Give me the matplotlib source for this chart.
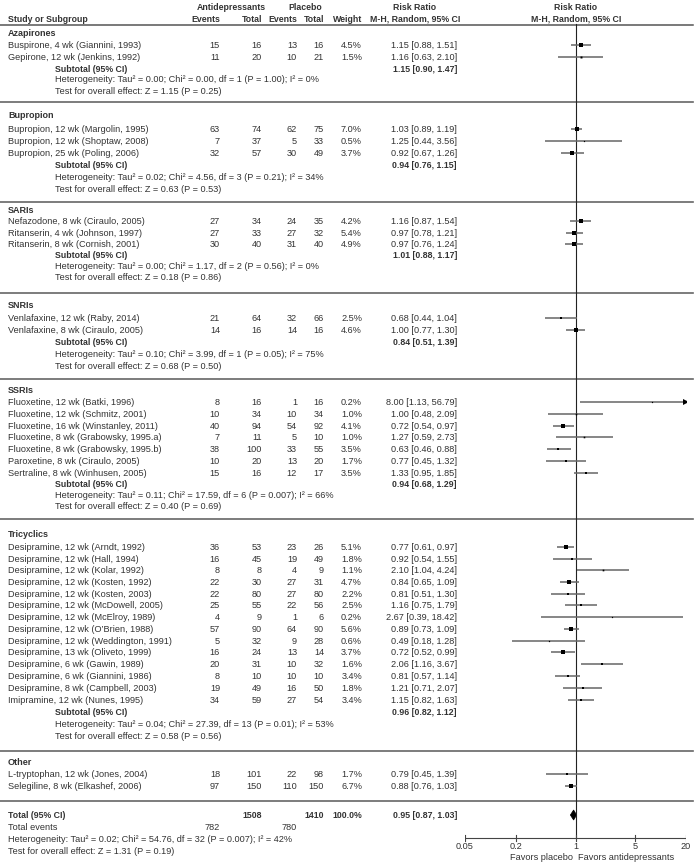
import matplotlib
matplotlib.use('Agg')
import matplotlib.pyplot as plt
from matplotlib.patches import Polygon

# ---------------- data ----------------
groups = ["Azapirones", "Bupropion", "SARIs", "SNRIs", "SSRIs", "Tricyclics", "Other"]
group_sizes = [2, 3, 3, 2, 7, 14, 2]

study_names = [
    "Buspirone, 4 wk (Giannini, 1993)", "Gepirone, 12 wk (Jenkins, 1992)",
    "Bupropion, 12 wk (Margolin, 1995)", "Bupropion, 12 wk (Shoptaw, 2008)", "Bupropion, 25 wk (Poling, 2006)",
    "Nefazodone, 8 wk (Ciraulo, 2005)", "Ritanserin, 4 wk (Johnson, 1997)", "Ritanserin, 8 wk (Cornish, 2001)",
    "Venlafaxine, 12 wk (Raby, 2014)", "Venlafaxine, 8 wk (Ciraulo, 2005)",
    "Fluoxetine, 12 wk (Batki, 1996)", "Fluoxetine, 12 wk (Schmitz, 2001)", "Fluoxetine, 16 wk (Winstanley, 2011)",
    "Fluoxetine, 8 wk (Grabowsky, 1995.a)", "Fluoxetine, 8 wk (Grabowsky, 1995.b)", "Paroxetine, 8 wk (Ciraulo, 2005)",
    "Sertraline, 8 wk (Winhusen, 2005)",
    "Desipramine, 12 wk (Arndt, 1992)", "Desipramine, 12 wk (Hall, 1994)", "Desipramine, 12 wk (Kolar, 1992)",
    "Desipramine, 12 wk (Kosten, 1992)", "Desipramine, 12 wk (Kosten, 2003)", "Desipramine, 12 wk (McDowell, 2005)",
    "Desipramine, 12 wk (McElroy, 1989)", "Desipramine, 12 wk (O\u2019Brien, 1988)", "Desipramine, 12 wk (Weddington, 1991)",
    "Desipramine, 13 wk (Oliveto, 1999)", "Desipramine, 6 wk (Gawin, 1989)", "Desipramine, 6 wk (Giannini, 1986)",
    "Desipramine, 8 wk (Campbell, 2003)", "Imipramine, 12 wk (Nunes, 1995)",
    "L-tryptophan, 12 wk (Jones, 2004)", "Selegiline, 8 wk (Elkashef, 2006)",
]
ad_events = [15, 11, 63, 7, 32, 27, 27, 30, 21, 14, 8, 10, 40, 7, 38, 10, 15,
             36, 16, 8, 22, 22, 25, 4, 57, 5, 16, 20, 8, 19, 34, 18, 97]
ad_total = [16, 20, 74, 37, 57, 34, 33, 40, 64, 16, 16, 34, 94, 11, 100, 20, 16,
            53, 45, 8, 30, 80, 55, 9, 90, 32, 24, 31, 10, 49, 59, 101, 150]
pl_events = [13, 10, 62, 5, 30, 24, 27, 31, 32, 14, 1, 10, 54, 5, 33, 13, 12,
             23, 19, 4, 27, 27, 22, 1, 64, 9, 13, 10, 10, 16, 27, 22, 110]
pl_total = [16, 21, 75, 33, 49, 35, 32, 40, 66, 16, 16, 34, 92, 10, 55, 20, 17,
            26, 49, 9, 31, 80, 56, 6, 90, 28, 14, 32, 10, 50, 54, 98, 150]
weights = [4.5, 1.5, 7.0, 0.5, 3.7, 4.2, 5.4, 4.9, 2.5, 4.6, 0.2, 1.0, 4.1, 1.0, 3.5, 1.7, 3.5,
           5.1, 1.8, 1.1, 4.7, 2.2, 2.5, 0.2, 5.6, 0.6, 3.7, 1.6, 3.4, 1.8, 3.4, 1.7, 6.7]
rr = [1.15, 1.16, 1.03, 1.25, 0.92, 1.16, 0.97, 0.97, 0.68, 1.00, 8.00, 1.00, 0.72, 1.27, 0.63, 0.77, 1.33,
      0.77, 0.92, 2.10, 0.84, 0.81, 1.16, 2.67, 0.89, 0.49, 0.72, 2.06, 0.81, 1.21, 1.15, 0.79, 0.88]
rr_lo = [0.88, 0.63, 0.89, 0.44, 0.67, 0.87, 0.78, 0.76, 0.44, 0.77, 1.13, 0.48, 0.54, 0.59, 0.46, 0.45, 0.95,
         0.61, 0.54, 1.04, 0.65, 0.51, 0.75, 0.39, 0.73, 0.18, 0.52, 1.16, 0.57, 0.71, 0.82, 0.45, 0.76]
rr_hi = [1.51, 2.10, 1.19, 3.56, 1.26, 1.54, 1.21, 1.24, 1.04, 1.30, 56.79, 2.09, 0.97, 2.73, 0.88, 1.32, 1.85,
         0.97, 1.55, 4.24, 1.09, 1.30, 1.79, 18.42, 1.09, 1.28, 0.99, 3.67, 1.14, 2.07, 1.63, 1.39, 1.03]

sub_rr = [1.15, 0.94, 1.01, 0.84, 0.94, 0.96]
sub_lo = [0.90, 0.76, 0.88, 0.51, 0.68, 0.82]
sub_hi = [1.47, 1.15, 1.17, 1.39, 1.29, 1.12]
sub_het = [
    "Heterogeneity: Tau\u00b2 = 0.00; Chi\u00b2 = 0.00, df = 1 (P = 1.00); I\u00b2 = 0%",
    "Heterogeneity: Tau\u00b2 = 0.02; Chi\u00b2 = 4.56, df = 3 (P = 0.21); I\u00b2 = 34%",
    "Heterogeneity: Tau\u00b2 = 0.00; Chi\u00b2 = 1.17, df = 2 (P = 0.56); I\u00b2 = 0%",
    "Heterogeneity: Tau\u00b2 = 0.10; Chi\u00b2 = 3.99, df = 1 (P = 0.05); I\u00b2 = 75%",
    "Heterogeneity: Tau\u00b2 = 0.11; Chi\u00b2 = 17.59, df = 6 (P = 0.007); I\u00b2 = 66%",
    "Heterogeneity: Tau\u00b2 = 0.04; Chi\u00b2 = 27.39, df = 13 (P = 0.01); I\u00b2 = 53%",
]
sub_test = [
    "Test for overall effect: Z = 1.15 (P = 0.25)",
    "Test for overall effect: Z = 0.63 (P = 0.53)",
    "Test for overall effect: Z = 0.18 (P = 0.86)",
    "Test for overall effect: Z = 0.68 (P = 0.50)",
    "Test for overall effect: Z = 0.40 (P = 0.69)",
    "Test for overall effect: Z = 0.58 (P = 0.56)",
]

total_ad = 1508
total_pl = 1410
total_weight = 100.0
total_rr, total_lo, total_hi = 0.95, 0.87, 1.03
total_events_ad = 782
total_events_pl = 780
total_het = "Heterogeneity: Tau\u00b2 = 0.02; Chi\u00b2 = 54.76, df = 32 (P = 0.007); I\u00b2 = 42%"
total_test = "Test for overall effect: Z = 1.31 (P = 0.19)"

axis_ticks = [0.05, 0.2, 1, 5, 20]
axis_tick_labels = ["0.05", "0.2", "1", "5", "20"]

# ---------------- layout (pixel rows) ----------------
W, H = 695, 863
head_y = [34, 115, 210, 305, 390, 534, 762]
study_y = [45, 57,
           129, 141, 153,
           221, 233, 244,
           318, 330,
           402, 414, 426, 437, 449, 461, 473,
           547, 559, 570, 582, 594, 605, 617, 629, 641, 652, 664, 676, 688, 700,
           774, 786]
sub_y = [69, 165, 255, 342, 484, 712]
het_y = [80, 177, 266, 354, 495, 724]
test_y = [91, 189, 277, 366, 506, 736]
sep_y = [102, 202, 293, 379, 519, 751, 801]
total_y, tev_y, thet_y, ttest_y = 815, 827, 839, 851

X_NAME, X_SUB = 8, 55
X_AE, X_AT, X_PE, X_PT, X_W, X_RR = 220, 262, 297, 324, 362, 457
PLOT_L, PLOT_R = 465, 686
AXIS_Y = 838

FS = 6.6
FSB = 6.3
TC = '#333333'
plt.rcParams['font.family'] = ['Liberation Sans', 'DejaVu Sans']

fig = plt.figure(figsize=(W / 100, H / 100), dpi=100)
fig.patch.set_facecolor('white')
ax = fig.add_axes([0, 0, 1, 1])
ax.set_xlim(0, W)
ax.set_ylim(H, 0)
ax.axis('off')

fx = fig.add_axes([PLOT_L / W, 0, (PLOT_R - PLOT_L) / W, 1])
fx.set_xscale('log')
fx.set_xlim(axis_ticks[0], axis_ticks[-1])
fx.set_ylim(H, 0)
fx.axis('off')
fx.patch.set_alpha(0)


def t(x, y, s, ha='left', bold=False, size=None):
    if size is None:
        size = FSB if bold else FS
    ax.text(x, y, s, ha=ha, va='center', fontsize=size, color=TC,
            fontweight='bold' if bold else 'normal')


# headers
t((X_AE + X_AT) / 2 - 10, 7, "Antidepressants", ha='center', bold=True)
t((X_PE + X_PT) / 2 - 5, 7, "Placebo", ha='center', bold=True)
t(X_NAME, 19, "Study or Subgroup", bold=True)
t(X_AE, 19, "Events", ha='right', bold=True)
t(X_AT, 19, "Total", ha='right', bold=True)
t(X_PE, 19, "Events", ha='right', bold=True)
t(X_PT, 19, "Total", ha='right', bold=True)
t(X_W, 19, "Weight", ha='right', bold=True)
t(415, 7, "Risk Ratio", ha='center', bold=True)
t(415, 19, "M-H, Random, 95% CI", ha='center', bold=True)
t(576, 7, "Risk Ratio", ha='center', bold=True)
t(576, 19, "M-H, Random, 95% CI", ha='center', bold=True)
ax.plot([0, 693], [25, 25], color='#555555', lw=1.1)

# separators
for y in sep_y:
    ax.plot([0, 693], [y, y], color='#666666', lw=1.2)

# group headers and subtotals
for g, name in enumerate(groups):
    t(X_NAME, head_y[g], name, bold=True, size=6.5)
    if g < len(sub_rr):
        t(X_SUB, sub_y[g], "Subtotal (95% CI)", bold=True)
        t(X_RR, sub_y[g], f"{sub_rr[g]:.2f} [{sub_lo[g]:.2f}, {sub_hi[g]:.2f}]", ha='right', bold=True)
        t(X_SUB, het_y[g], sub_het[g])
        t(X_SUB, test_y[g], sub_test[g])

# studies
for i, name in enumerate(study_names):
    y = study_y[i]
    t(X_NAME, y, name)
    t(X_AE, y, str(ad_events[i]), ha='right')
    t(X_AT, y, str(ad_total[i]), ha='right')
    t(X_PE, y, str(pl_events[i]), ha='right')
    t(X_PT, y, str(pl_total[i]), ha='right')
    t(X_W, y, f"{weights[i]:.1f}%", ha='right')
    t(X_RR, y, f"{rr[i]:.2f} [{rr_lo[i]:.2f}, {rr_hi[i]:.2f}]", ha='right')
    hi = min(rr_hi[i], axis_ticks[-1])
    lo = max(rr_lo[i], axis_ticks[0])
    fx.plot([lo, hi], [y, y], color='#666666', lw=1.1, solid_capstyle='butt', zorder=2)
    side = max(1.2, 1.6 * weights[i] ** 0.5)
    fx.plot([rr[i]], [y], marker='s', ms=side * 0.72, color='black', mew=0, zorder=3)
    if rr_hi[i] > axis_ticks[-1]:
        fx.plot([axis_ticks[-1]], [y], marker='>', ms=4.5, color='black', mew=0, zorder=3)

# total
t(X_NAME, total_y, "Total (95% CI)", bold=True)
t(X_AT, total_y, str(total_ad), ha='right', bold=True)
t(X_PT, total_y, str(total_pl), ha='right', bold=True)
t(X_W, total_y, f"{total_weight:.1f}%", ha='right', bold=True)
t(X_RR, total_y, f"{total_rr:.2f} [{total_lo:.2f}, {total_hi:.2f}]", ha='right', bold=True)
t(X_NAME, tev_y, "Total events")
t(X_AE, tev_y, str(total_events_ad), ha='right')
t(X_PE, tev_y, str(total_events_pl), ha='right')
t(X_NAME, thet_y, total_het)
t(X_NAME, ttest_y, total_test)
fx.add_patch(Polygon([(total_lo, total_y), (total_rr, total_y - 5), (total_hi, total_y),
                      (total_rr, total_y + 5)], closed=True, facecolor='black', edgecolor='black', lw=0.5))

# null line and axis
fx.plot([1, 1], [24, AXIS_Y], color='#222222', lw=0.8, zorder=1)
fx.plot([axis_ticks[0], axis_ticks[-1]], [AXIS_Y, AXIS_Y], color='#444444', lw=0.8)
for v, lab in zip(axis_ticks, axis_tick_labels):
    fx.plot([v, v], [AXIS_Y - 3, AXIS_Y + 3], color='#444444', lw=0.8)
    fx.text(v, AXIS_Y + 8, lab, ha='center', va='center', fontsize=FS, color=TC)
fx.text(0.93, 857, "Favors placebo", ha='right', va='center', fontsize=FS, color=TC)
fx.text(1.07, 857, "Favors antidepressants", ha='left', va='center', fontsize=FS, color=TC)

fig.savefig('out.png', dpi=100, facecolor='white')
